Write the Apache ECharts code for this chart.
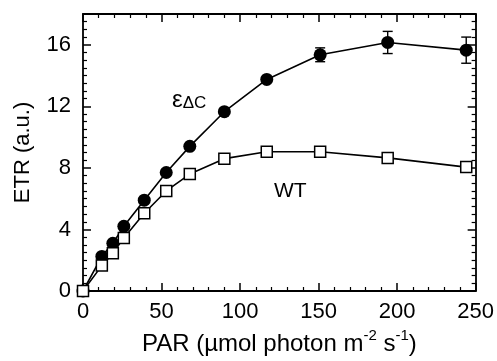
<!DOCTYPE html>
<html>
<head>
<meta charset="utf-8">
<script src="https://cdn.jsdelivr.net/npm/echarts@6/dist/echarts.min.js"></script>
<style>
  html, body { margin: 0; padding: 0; background: #fff; }
  #chart { width: 497px; height: 361px; }
</style>
</head>
<body>
<div id="chart"></div>
<script>
// PAR 光强（µmol photon m-2 s-1）
const par = [0, 12, 19, 26, 39, 53, 68, 90, 117, 151, 194, 244]
// ε ΔC 突变体
const etrDC = [0, 2.25, 3.1, 4.2, 5.9, 7.7, 9.4, 11.65, 13.75, 15.35, 16.15, 15.65]
const errDC = [0, 0, 0, 0, 0, 0, 0, 0, 0, 0.45, 0.72, 0.85]
// 野生型
const etrWT = [0, 1.65, 2.45, 3.45, 5.05, 6.5, 7.6, 8.6, 9.05, 9.05, 8.65, 8.05]

const font = 'Liberation Sans, Arial, sans-serif'

const chart = echarts.init(document.getElementById('chart'), null, { renderer: 'canvas' })

const axisCommon = {
  axisLine: { show: true, onZero: false, lineStyle: { color: '#000', width: 1.8 } },
  axisTick: { show: true, inside: true, length: 8, lineStyle: { color: '#000', width: 1.5 } },
  minorTick: { show: true, length: 4, lineStyle: { color: '#000', width: 1.2 } },
  splitLine: { show: false },
}

const option = {
  backgroundColor: '#fff',
  animation: false,
  grid: { left: 83, right: 21, top: 14, bottom: 65 },
  xAxis: [
    {
      type: 'value', min: 0, max: 250, interval: 50, position: 'bottom',
      ...axisCommon,
      minorTick: { ...axisCommon.minorTick, splitNumber: 5 },
      axisLabel: { color: '#000', fontSize: 22, fontFamily: font, margin: 10 },
      name: '{t|PAR (µmol photon m}{s|-2}{t| s}{s|-1}{t|)}',
      nameLocation: 'middle',
      nameGap: 37,
      nameTextStyle: {
        rich: {
          t: { fontSize: 24, fontFamily: font, color: '#000', verticalAlign: 'bottom', lineHeight: 28 },
          s: { fontSize: 15, fontFamily: font, color: '#000', verticalAlign: 'top', lineHeight: 28, padding: [0, 0, 11, 0] },
        },
      },
    },
    {
      type: 'value', min: 0, max: 250, interval: 50, position: 'top',
      ...axisCommon,
      minorTick: { ...axisCommon.minorTick, splitNumber: 5 },
      axisLabel: { show: false },
    },
  ],
  yAxis: [
    {
      type: 'value', min: 0, max: 18, interval: 4, position: 'left',
      ...axisCommon,
      minorTick: { ...axisCommon.minorTick, splitNumber: 8 },
      axisLabel: { color: '#000', fontSize: 22, fontFamily: font, margin: 12, showMaxLabel: false },
      name: 'ETR (a.u.)',
      nameLocation: 'middle',
      nameGap: 49,
      nameTextStyle: { fontSize: 22, fontFamily: font, color: '#000' },
    },
    {
      type: 'value', min: 0, max: 18, interval: 4, position: 'right',
      ...axisCommon,
      minorTick: { ...axisCommon.minorTick, splitNumber: 8 },
      axisLabel: { show: false },
    },
  ],
  graphic: [
    {
      type: 'text',
      left: 172,
      top: 88,
      style: {
        text: '{e|ε}{s|ΔC}',
        rich: {
          e: { fontSize: 24, fontFamily: font, fill: '#000', verticalAlign: 'bottom', lineHeight: 26 },
          s: { fontSize: 17, fontFamily: font, fill: '#000', verticalAlign: 'bottom', lineHeight: 18 },
        },
      },
    },
    {
      type: 'text',
      left: 274,
      top: 181,
      style: { text: 'WT', fontSize: 21, fontFamily: font, fill: '#000' },
    },
  ],
  series: [
    {
      name: 'εΔC',
      type: 'line',
      data: par.map((x, i) => [x, etrDC[i]]),
      symbol: 'circle',
      symbolSize: 13,
      lineStyle: { color: '#000', width: 1.6 },
      itemStyle: { color: '#000' },
      z: 3,
    },
    {
      name: 'err',
      type: 'custom',
      data: par.map((x, i) => [x, etrDC[i], errDC[i]]),
      renderItem: (params, api) => {
        const e = api.value(2)
        if (!e) return null
        const x = api.value(0)
        const y = api.value(1)
        const top = api.coord([x, y + e])
        const bot = api.coord([x, y - e])
        const hw = 5
        const style = { stroke: '#000', lineWidth: 1.4 }
        return {
          type: 'group',
          children: [
            { type: 'line', shape: { x1: top[0], y1: top[1], x2: bot[0], y2: bot[1] }, style },
            { type: 'line', shape: { x1: top[0] - hw, y1: top[1], x2: top[0] + hw, y2: top[1] }, style },
            { type: 'line', shape: { x1: bot[0] - hw, y1: bot[1], x2: bot[0] + hw, y2: bot[1] }, style },
          ],
        }
      },
      z: 2,
    },
    {
      name: 'WT',
      type: 'line',
      data: par.map((x, i) => [x, etrWT[i]]),
      symbol: 'rect',
      symbolSize: 11,
      lineStyle: { color: '#000', width: 1.6 },
      itemStyle: { color: '#fff', borderColor: '#000', borderWidth: 1.5 },
      z: 4,
    },
  ],
}

chart.setOption(option)
</script>
</body>
</html>
